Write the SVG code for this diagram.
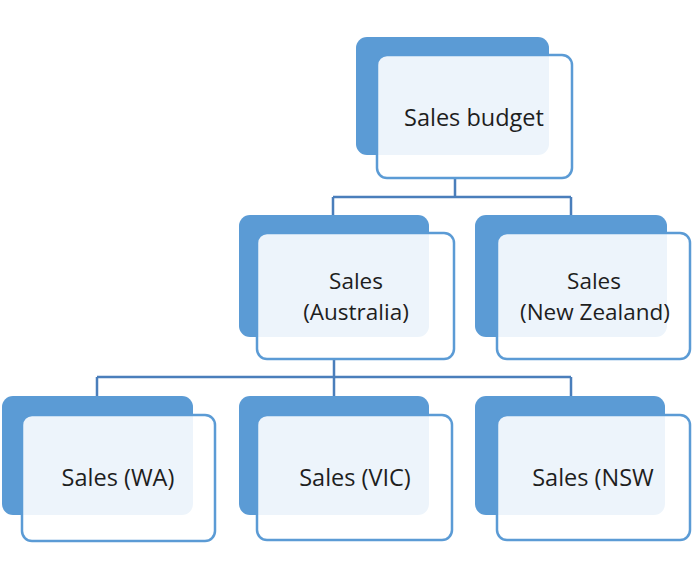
<svg xmlns="http://www.w3.org/2000/svg" width="692" height="573" viewBox="0 0 692 573">
<style>
.back{fill:#5B9BD5;}
.front{fill:#FFFFFF;fill-opacity:0.89;stroke:#5B9BD5;stroke-width:2.5;}
.lbl{font-family:"Open Sans","Liberation Sans",sans-serif;font-size:23.5px;fill:#1E1E1E;text-anchor:middle;}
.two{font-size:22.5px;}
.conn{fill:none;stroke:#4A7EBB;stroke-width:2.5;}
</style>
<rect width="692" height="573" fill="#FFFFFF"/>
<g id="connectors">
<path class="conn" d="M455 178V197M333 197H571M333 197V215M571 197V215"/>
<path class="conn" d="M334 360V377M97 377H571M97 377V396M334 377V396M571 377V396"/>
</g>
<g id="budget">
<rect class="back" x="356" y="37" width="193" height="118" rx="11"/>
<rect class="front" x="377" y="55" width="195" height="123" rx="10"/>
<text class="lbl" x="474" y="126">Sales budget</text>
</g>
<g id="australia">
<rect class="back" x="239" y="215" width="190" height="122" rx="11"/>
<rect class="front" x="257" y="233" width="197" height="126" rx="10"/>
<text class="lbl two" x="356" y="289">Sales</text>
<text class="lbl two" x="356" y="320">(Australia)</text>
</g>
<g id="newzealand">
<rect class="back" x="475" y="215" width="192" height="122" rx="11"/>
<rect class="front" x="497" y="233" width="193" height="126" rx="10"/>
<text class="lbl two" x="594" y="289">Sales</text>
<text class="lbl two" x="595" y="320">(New Zealand)</text>
</g>
<g id="wa">
<rect class="back" x="2" y="396" width="191" height="119" rx="11"/>
<rect class="front" x="22" y="415" width="193" height="126" rx="10"/>
<text class="lbl" x="118" y="486">Sales (WA)</text>
</g>
<g id="vic">
<rect class="back" x="239" y="396" width="190" height="119" rx="11"/>
<rect class="front" x="257" y="415" width="195" height="125" rx="10"/>
<text class="lbl" x="355" y="486">Sales (VIC)</text>
</g>
<g id="nsw">
<rect class="back" x="475" y="396" width="190" height="119" rx="11"/>
<rect class="front" x="497" y="415" width="193" height="125" rx="10"/>
<text class="lbl" x="593" y="486">Sales (NSW</text>
</g>
</svg>
